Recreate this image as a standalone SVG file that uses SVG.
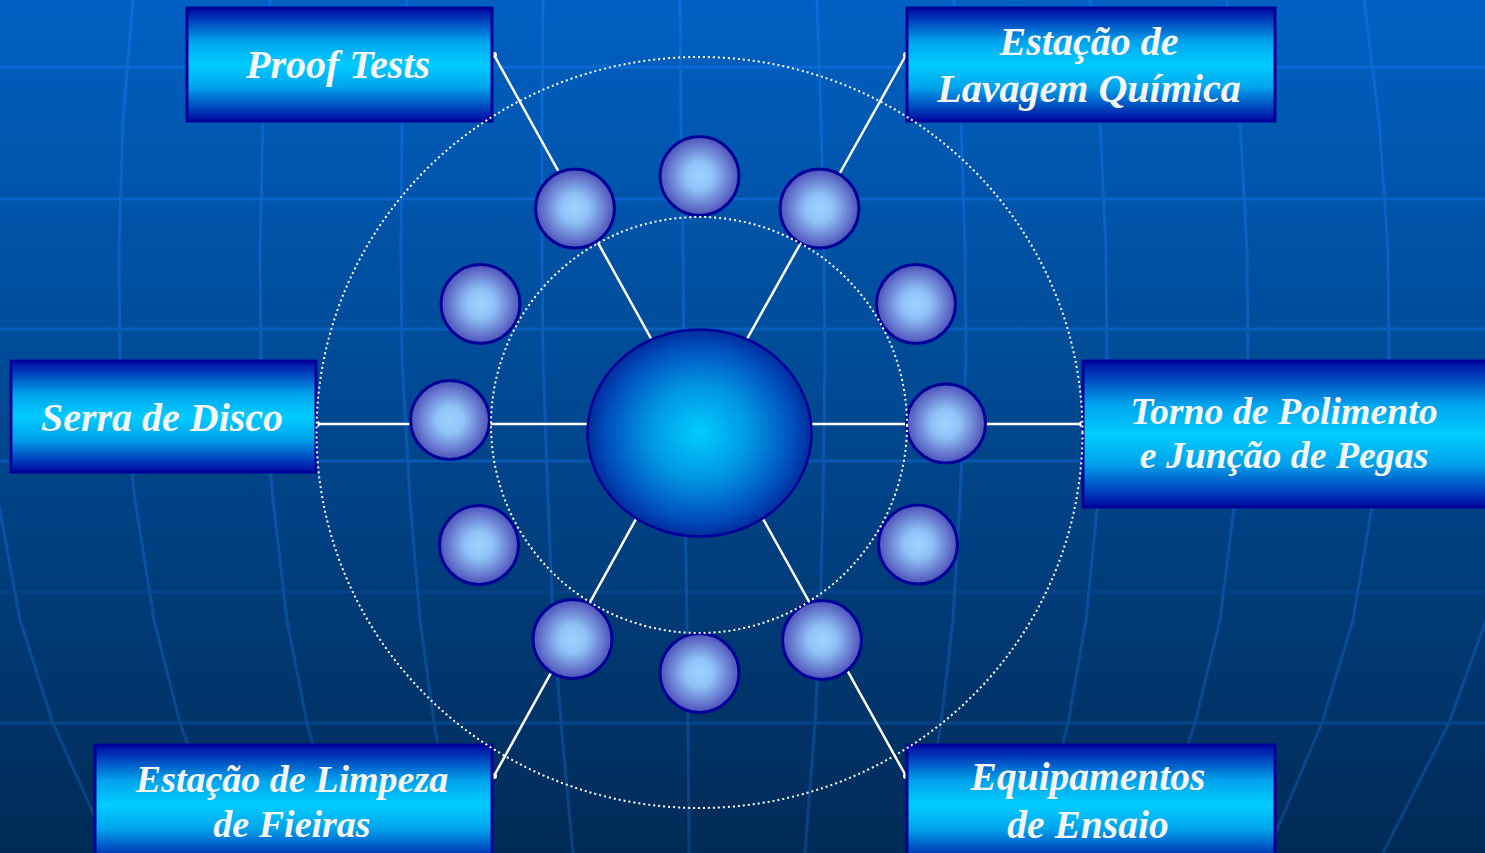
<svg xmlns="http://www.w3.org/2000/svg" width="1485" height="853" viewBox="0 0 1485 853">
<defs>
<linearGradient id="bg" x1="0" y1="0" x2="0" y2="1">
<stop offset="0" stop-color="#0060c2"/>
<stop offset="0.5" stop-color="#00478f"/>
<stop offset="1" stop-color="#002a56"/>
</linearGradient>
<linearGradient id="gridc" gradientUnits="userSpaceOnUse" x1="0" y1="0" x2="0" y2="853">
<stop offset="0" stop-color="#0a6cda"/>
<stop offset="0.5" stop-color="#0858b4"/>
<stop offset="1" stop-color="#06427f"/>
</linearGradient>
<linearGradient id="boxg" x1="0" y1="0" x2="0" y2="1">
<stop offset="0" stop-color="#0008a0"/>
<stop offset="0.3" stop-color="#00a4ec"/>
<stop offset="0.5" stop-color="#00ccff"/>
<stop offset="0.7" stop-color="#00a4ec"/>
<stop offset="1" stop-color="#0008a0"/>
</linearGradient>
<radialGradient id="smallg" cx="0.5" cy="0.5" r="0.5">
<stop offset="0" stop-color="#a0d2ff"/>
<stop offset="0.35" stop-color="#90c2f8"/>
<stop offset="0.8" stop-color="#6474cc"/>
<stop offset="1" stop-color="#4a52b8"/>
</radialGradient>
<radialGradient id="bigg" cx="0.5" cy="0.5" r="0.5">
<stop offset="0" stop-color="#00ccff"/>
<stop offset="0.45" stop-color="#0096e2"/>
<stop offset="0.85" stop-color="#004cbc"/>
<stop offset="1" stop-color="#002c9c"/>
</radialGradient>
</defs>
<style>
.grid line, .grid polyline { stroke: url(#gridc); stroke-width: 3; fill: none; stroke-linejoin: round; }
.box { fill: url(#boxg); stroke: #000099; stroke-width: 3; }
.lbl { font-family: "Liberation Serif", "Times New Roman", serif; font-style: italic; font-weight: bold; fill: #f6f6f6; text-anchor: middle; }
.sm { fill: url(#smallg); stroke: #000099; stroke-width: 3; }
.big { fill: url(#bigg); stroke: #000099; stroke-width: 2.5; }
.conn { stroke: #ffffff; stroke-width: 2.5; fill: none; }
.dot { fill: #ffffff; }
.ring { fill: none; stroke: #ffffff; stroke-width: 2; stroke-dasharray: 2 3; }
</style>
<rect x="0" y="0" width="1485" height="853" fill="url(#bg)"/>
<g class="grid" id="grid">
<line x1="0" y1="67" x2="1485" y2="67"/>
<line x1="0" y1="199" x2="1485" y2="199"/>
<line x1="0" y1="329" x2="1485" y2="329"/>
<line x1="0" y1="461" x2="1485" y2="461"/>
<line x1="0" y1="592" x2="1485" y2="592" opacity="0.35"/>
<line x1="0" y1="723" x2="1485" y2="723" opacity="0.8"/>
<polyline points="-4,0 -17,120 -22,250 -21,360 -2,500 20,620 53,723 111,853"/>
<polyline points="133,0 123,120 119,250 120,360 135,500 154,620 180,723 227,853"/>
<polyline points="270,0 263,120 260,250 261,360 273,500 287,620 307,723 342,853"/>
<polyline points="407,0 402,120 401,250 402,360 410,500 420,620 434,723 458,853"/>
<polyline points="543,0 542,120 542,250 543,360 548,500 553,620 561,723 573,853"/>
<polyline points="680,0 681,120 683,250 684,360 685,500 687,620 688,723 689,853"/>
<polyline points="817,0 821,120 824,250 825,360 823,500 820,620 815,723 805,853"/>
<polyline points="954,0 961,120 965,250 966,360 960,500 953,620 941,723 920,853"/>
<polyline points="1090,0 1100,120 1106,250 1107,360 1098,500 1086,620 1068,723 1036,853"/>
<polyline points="1227,0 1240,120 1247,250 1248,360 1235,500 1220,620 1195,723 1152,853"/>
<polyline points="1364,0 1379,120 1388,250 1389,360 1373,500 1353,620 1322,723 1267,853"/>
<polyline points="1501,0 1519,120 1529,250 1530,360 1510,500 1486,620 1449,723 1383,853"/>
</g>
<g id="connectors">
<line class="conn" x1="494" y1="55" x2="674" y2="380"/>
<line class="conn" x1="906" y1="55" x2="724" y2="380"/>
<line class="conn" x1="316" y1="424" x2="620" y2="424"/>
<line class="conn" x1="1083" y1="424" x2="780" y2="424"/>
<line class="conn" x1="494" y1="776" x2="652" y2="490"/>
<line class="conn" x1="906" y1="776" x2="747" y2="490"/>
<circle class="dot" cx="494" cy="55" r="3"/>
<circle class="dot" cx="906" cy="55" r="3"/>
<circle class="dot" cx="317" cy="424" r="3"/>
<circle class="dot" cx="1082" cy="424" r="3"/>
<circle class="dot" cx="494" cy="776" r="3"/>
<circle class="dot" cx="906" cy="776" r="3"/>
</g>
<g id="satellites">
<circle class="sm" cx="699.5" cy="176" r="39.5"/>
<circle class="sm" cx="575" cy="208.5" r="39.5"/>
<circle class="sm" cx="819.5" cy="208.5" r="39.5"/>
<circle class="sm" cx="480.5" cy="304" r="39.5"/>
<circle class="sm" cx="916" cy="304" r="39.5"/>
<circle class="sm" cx="450" cy="420" r="39.5"/>
<circle class="sm" cx="946" cy="423.5" r="39.5"/>
<circle class="sm" cx="479" cy="545" r="39.5"/>
<circle class="sm" cx="918" cy="544.5" r="39.5"/>
<circle class="sm" cx="572.5" cy="639" r="39.5"/>
<circle class="sm" cx="699.5" cy="673" r="39.5"/>
<circle class="sm" cx="822" cy="640" r="39.5"/>
</g>
<g id="hub">
<ellipse class="big" cx="699.5" cy="433" rx="112" ry="103.5"/>
</g>
<g id="node-proof-tests">
<rect class="box" x="187" y="8" width="305" height="113"/>
<text class="lbl" x="338" y="78" font-size="40">Proof Tests</text>
</g>
<g id="node-lavagem">
<rect class="box" x="907" y="8" width="368" height="113"/>
<text class="lbl" x="1089" y="55" font-size="40">Estação de</text>
<text class="lbl" x="1089" y="102" font-size="40">Lavagem Química</text>
</g>
<g id="node-serra">
<rect class="box" x="11" y="361" width="305" height="111"/>
<text class="lbl" x="162" y="431" font-size="40">Serra de Disco</text>
</g>
<g id="node-torno">
<rect class="box" x="1083" y="361" width="420" height="146"/>
<text class="lbl" x="1284" y="424" font-size="37.8">Torno de Polimento</text>
<text class="lbl" x="1284" y="468" font-size="37.8">e Junção de Pegas</text>
</g>
<g id="node-limpeza">
<rect class="box" x="95" y="745" width="397" height="120"/>
<text class="lbl" x="292" y="792" font-size="38">Estação de Limpeza</text>
<text class="lbl" x="292" y="837" font-size="38">de Fieiras</text>
</g>
<g id="node-ensaio">
<rect class="box" x="907" y="745" width="368" height="120"/>
<text class="lbl" x="1088" y="790" font-size="39.5">Equipamentos</text>
<text class="lbl" x="1088" y="838" font-size="39.5">de Ensaio</text>
</g>
<g id="rings">
<ellipse class="ring" cx="699.5" cy="432.5" rx="383" ry="375.5"/>
<circle class="ring" cx="699" cy="425" r="208"/>
</g>
</svg>
